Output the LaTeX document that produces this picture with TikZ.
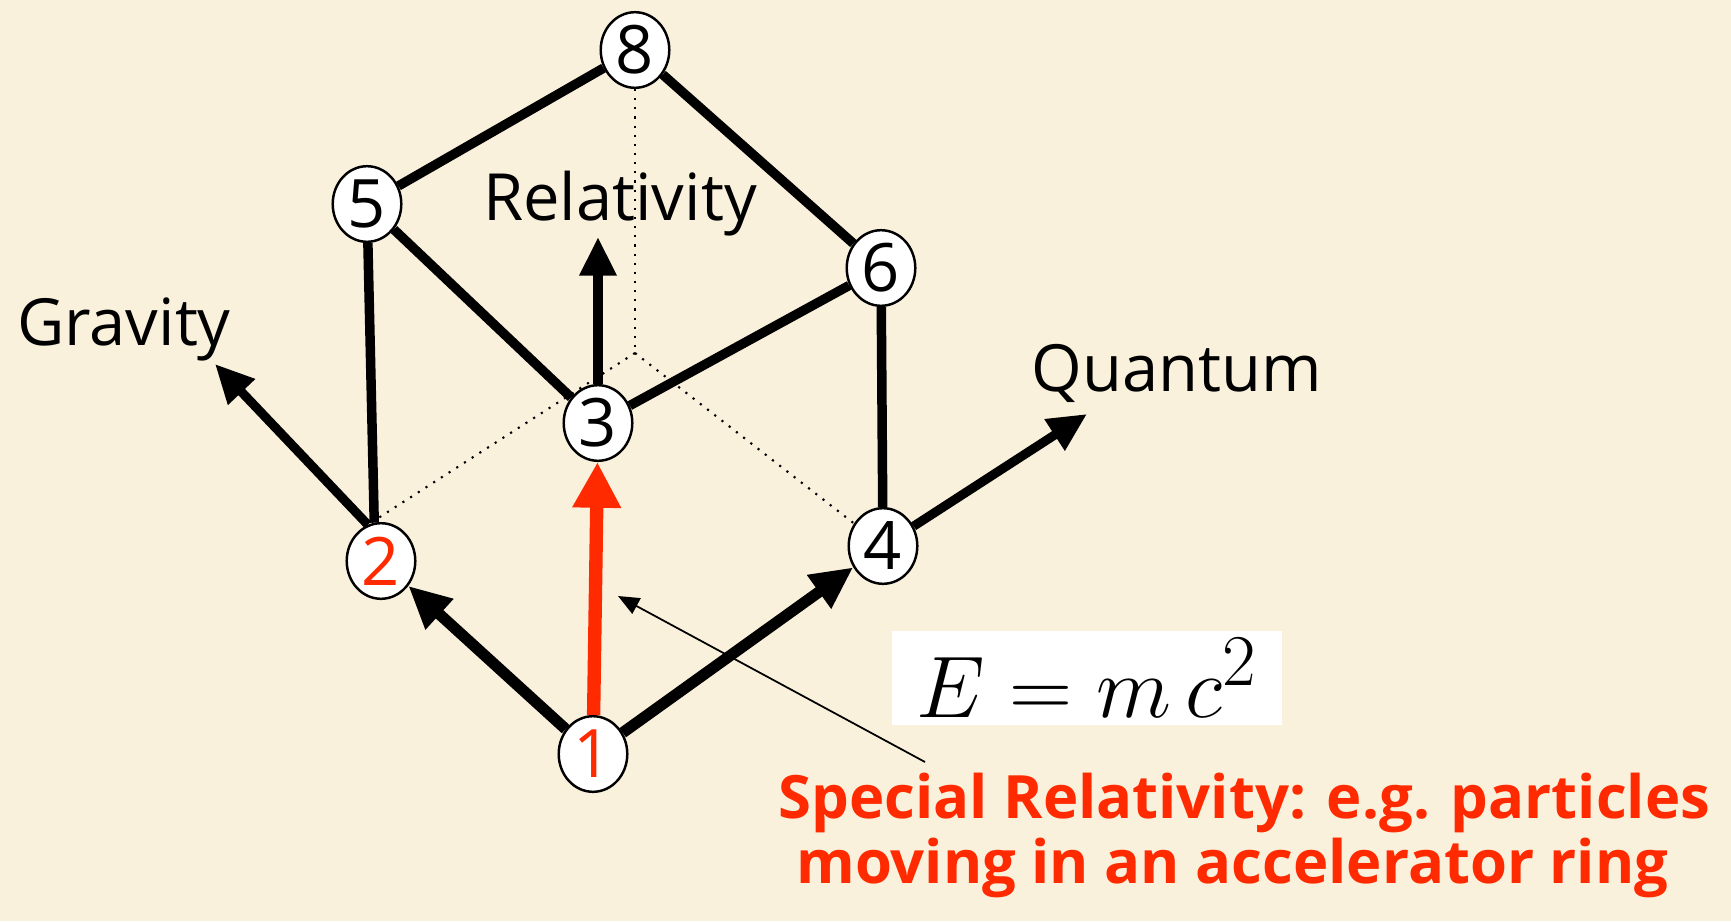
\documentclass[tikz,border=0pt]{standalone}
\usepackage{fontspec}
\setmainfont{Open Sans}
\usepackage{tikz}
\usetikzlibrary{arrows.meta,shapes.geometric}
\definecolor{paper}{RGB}{250,241,221}
\definecolor{hotred}{RGB}{255,42,0}

\begin{document}
\begin{tikzpicture}[x=0.01cm,y=-0.01cm,
    vertex/.style={ellipse,draw,line width=0.7pt,fill=white,inner sep=0pt,minimum width=19.5pt,minimum height=21.5pt,font=\fontsize{19}{19}\selectfont},
    axis/.style={font=\fontsize{18.5}{19}\selectfont},
    cubeedge/.style={line width=2.7pt},
    hidden/.style={dotted,line width=0.6pt}]
    \fill[paper] (0,0) rectangle (1731,921);
    \useasboundingbox (0,0) rectangle (1731,921);

    \node[vertex] (1) at (593,754) {\textcolor{hotred}{1}};
    \node[vertex] (2) at (381,561) {\textcolor{hotred}{2}};
    \node[vertex] (3) at (598,423) {3};
    \node[vertex] (4) at (883,546) {4};
    \node[vertex] (5) at (367,204) {5};
    \node[vertex] (6) at (881,268) {6};
    \node[vertex] (8) at (635,50) {8};
    \coordinate (7) at (635,353);

    \node[axis] (grav) at (124,329) {Gravity};
    \node[axis] (rel) at (620,204) {Relativity};
    \node[axis] (quant) at (1177,373) {Quantum};
    \coordinate (gtip) at (215,364);
    \coordinate (rtip) at (598,237);
    \coordinate (qtip) at (1087,414);

    \node[fill=white,inner sep=0pt,minimum width=111pt,minimum height=27pt] (emc) at (1087,678) {\fontsize{29}{29}\selectfont$E = m\,c^2$};
    \node[anchor=north west,inner sep=0pt,align=left,text=hotred,font=\fontsize{17}{18.5}\selectfont\bfseries] (sr) at (778,772)
        {Special Relativity: e.g. particles\\\hspace*{5pt}moving in an accelerator ring};
    \coordinate (spfoot) at (925,762);
    \coordinate (sptip) at (618,596);

    \path[cubeedge]
    (8) edge (5)
    (8) edge (6)
    (5) edge (3)
    (6) edge (3)
    (5) edge (2.100)
    (6) edge (4);
    \path[hidden] (8) edge (7) (7) edge (2.110) (7) edge (4);

    \path[-{Triangle[length=11pt,width=10pt]}, line width=2.6pt]
    (2.110) edge (gtip)
    (3) edge (rtip)
    (4) edge (qtip);
    \path[-{Triangle[length=12pt,width=11pt]}, line width=3.2pt]
    (1) edge (2)
    (1) edge (4);
    \path[-{Triangle[length=13pt,width=13pt]}, line width=3.8pt, hotred]
    (1) edge (3);
    \path[-{Triangle[length=6pt,width=5pt]}, line width=0.5pt]
    (spfoot) edge (sptip);
\end{tikzpicture}
\end{document}
